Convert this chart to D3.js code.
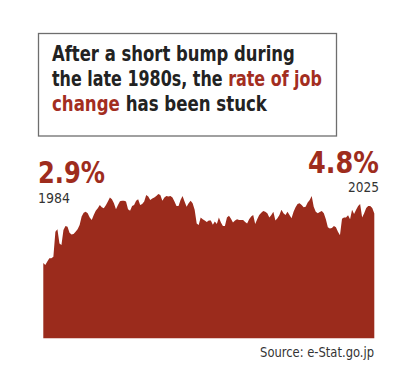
<!DOCTYPE html>
<meta charset="utf-8">
<style>
  body { margin: 0; background: #fff; }
  text { font-family: "DejaVu Sans Condensed", "Liberation Sans Narrow", sans-serif; }
  .title { font-weight: bold; font-size: 21.5px; fill: #222; }
  .title .hl { fill: #a32e1f; }
  .big { font-weight: bold; font-size: 31px; fill: #9e2c1d; }
  .yr { font-size: 13.5px; fill: #333; }
  .src { font-size: 14px; fill: #333; }
</style>
<body>
<script src="https://d3js.org/d3.v7.min.js"></script>
<script>
// quarterly rate of job change (%), 1984 Q1 to 2025 Q1
var startYear = 1984, endYear = 2025;
var rate = [
  2.90, 2.82, 2.95, 3.08, 3.08, 3.14, 4.10, 4.19, 3.65, 3.59,
  4.17, 4.32, 4.29, 4.06, 3.99, 4.01, 4.10, 4.19, 4.36, 4.68,
  4.83, 4.87, 4.81, 4.65, 4.55, 4.74, 4.91, 5.00, 5.13, 5.04,
  5.00, 5.12, 5.26, 5.42, 5.35, 5.19, 4.96, 5.13, 5.27, 5.29,
  5.29, 5.26, 4.96, 4.91, 5.09, 5.13, 5.29, 5.35, 5.13, 5.17,
  5.26, 5.51, 5.45, 5.32, 5.38, 5.42, 5.47, 5.55, 5.51, 5.29,
  5.42, 5.47, 5.45, 5.47, 5.42, 5.26, 5.09, 5.09, 5.32, 5.47,
  5.26, 5.06, 5.19, 5.29, 5.19, 4.94, 4.42, 4.36, 4.65, 4.58,
  4.53, 4.47, 4.53, 4.53, 4.37, 4.49, 4.40, 4.65, 4.45, 4.32,
  4.32, 4.65, 4.71, 4.60, 4.45, 4.53, 4.58, 4.55, 4.55, 4.55,
  4.47, 4.42, 4.58, 4.68, 4.74, 4.40, 4.58, 4.74, 4.83, 4.90,
  4.87, 4.81, 4.65, 4.74, 4.87, 4.53, 4.62, 4.74, 4.94, 4.81,
  4.74, 4.87, 4.74, 4.62, 4.87, 5.04, 5.17, 5.19, 5.13, 5.04,
  5.06, 5.22, 5.32, 5.47, 5.06, 4.87, 4.81, 4.86, 4.90, 4.81,
  4.58, 4.27, 4.22, 4.24, 4.32, 4.27, 4.10, 3.96, 4.60, 4.65,
  4.65, 4.73, 4.58, 4.94, 4.78, 4.94, 5.09, 5.17, 4.65, 4.81,
  5.01, 5.09, 5.09, 5.01, 4.80
];
var titleLines = [
  [["After a short bump during", false]],
  [["the late 1980s, the ", false], ["rate of job", true]],
  [["change", true], [" has been stuck", false]]
];
var titleWidths = [243, 270, 215];
var firstLabel = {value: "2.9%", year: "1984"};
var lastLabel = {value: "4.8%", year: "2025"};
var source = "Source: e-Stat.go.jp";

var width = 400, height = 365;

var svg = d3.select("body").append("svg")
  .attr("width", width)
  .attr("height", height);

// squeeze a text horizontally to a target width, anchored at (x, y)
function placeText(cls, str, x, y, target, anchor) {
  var t = svg.append("text")
    .attr("class", cls)
    .attr("text-anchor", anchor || "start")
    .attr("x", 0).attr("y", 0);
  if (typeof str === "string") t.text(str);
  else str.forEach(function (p) {
    t.append("tspan").attr("class", p[1] ? "hl" : null).text(p[0]);
  });
  var w = t.node().getComputedTextLength();
  var s = target ? target / w : 1;
  t.attr("transform", "translate(" + x + "," + y + ") scale(" + s + ",1)");
  return t;
}

// title box
svg.append("rect")
  .attr("x", 38.5).attr("y", 33.5)
  .attr("width", 298).attr("height", 102.5)
  .attr("fill", "#fff")
  .attr("stroke", "#6e6e6e")
  .attr("stroke-width", 1.3);

titleLines.forEach(function (parts, i) {
  placeText("title", parts, 52, 61 + i * 25, titleWidths[i]);
});

// area chart
var dates = rate.map(function (d, i) { return new Date(startYear + Math.floor(i / 4), (i % 4) * 3, 1); });

var x = d3.scaleTime()
  .domain([new Date(startYear, 0, 1), new Date(endYear, 0, 1)])
  .range([43.3, 374.3]);

var y = d3.scaleLinear()
  .domain([0, 6])
  .range([338.3, 338.3 - 156]);

var area = d3.area()
  .x(function (d, i) { return x(dates[i]); })
  .y0(y(0))
  .y1(function (d) { return y(d); });

svg.append("path")
  .datum(rate)
  .attr("fill", "#9b2b1c")
  .attr("d", area);

// end labels
placeText("big", firstLabel.value, 38, 183, 67);
placeText("yr", firstLabel.year, 38, 203, 32);
placeText("big", lastLabel.value, 379, 173, 71, "end");
placeText("yr", lastLabel.year, 379, 192, 31, "end");

placeText("src", source, 374, 357, 114, "end");
</script>
</body>
